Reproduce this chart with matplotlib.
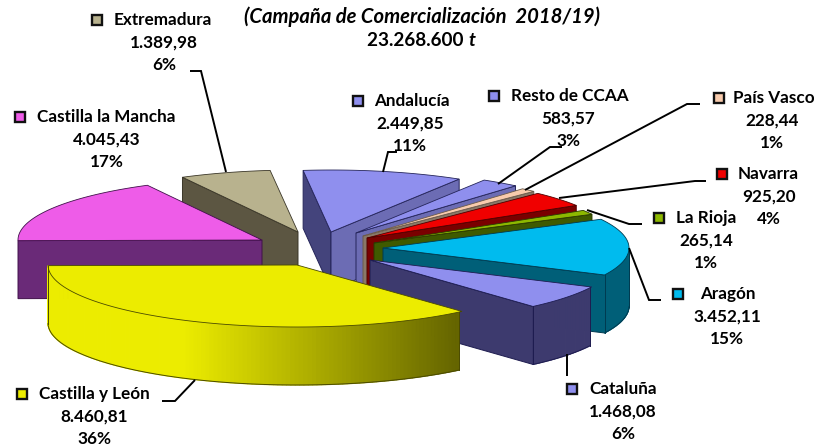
import numpy as np
import matplotlib
matplotlib.use('Agg')
import matplotlib.pyplot as plt
from matplotlib.patches import Polygon, Rectangle
from matplotlib.colors import to_rgb

plt.rcParams['font.family'] = ['Lato', 'DejaVu Sans']

# datos (miles de t), en el orden de la tarta, en sentido horario
regiones = ['Castilla y León', 'Castilla la Mancha', 'Extremadura', 'Andalucía', 'Resto de CCAA',
            'País Vasco', 'Navarra', 'La Rioja', 'Aragón', 'Cataluña']
valores = [8460.81, 4045.43, 1389.98, 2449.85, 583.57, 228.44, 925.20, 265.14, 3452.11, 1468.08]
valores_txt = ['8.460,81', '4.045,43', '1.389,98', '2.449,85', '583,57', '228,44', '925,20', '265,14',
               '3.452,11', '1.468,08']
porcentajes = ['36%', '17%', '6%', '11%', '3%', '1%', '4%', '1%', '15%', '6%']

color_top = ['#ECEC00', '#EE5CE8', '#B8B28E', '#8F8FEE', '#8F8FEE', '#F8CBAD', '#F00000', '#8DB800', '#00BBEE', '#8F8FEE']
color_izq = ['#6B6B00', '#6A2A78', '#5C5642', '#44447C', '#44447C', '#8A7868', '#7A0000', '#3F5A00', '#005F78', '#3D3A6E']
color_der = ['#6B6B00', '#6A2A78', '#5C5642', '#6C6CB4', '#6C6CB4', '#8A7868', '#7A0000', '#3F5A00', '#005F78', '#3D3A6E']
color_borde = ['#4A4A00', '#40104A', '#3A3628', '#25255A', '#25255A', '#6A5A4A', '#500000', '#2A3A00', '#003A50', '#1E1C50']

# vertice de cada porcion en pixeles de la figura
centros = [(297, 265), (262, 240), (298, 232), (331, 232), (356, 233),
           (363, 236), (367, 238), (374, 243), (383, 248), (370, 260)]
radios_x = [249, 244, 246, 246, 246, 246, 246, 246, 246, 246]
RY, ALTO = 62, 58
ANG_INI = 311.5  # angulo donde empieza Castilla y Leon

# etiquetas: cuadrado, x del nombre, x centro, y del nombre
etiquetas = [(22, 39, 94, 394), (20, 37, 107, 117), (97, 114, 164, 20), (358, 374, 410, 101),
             (494, 511, 568, 96), (719, 733, 772, 98), (722, 738, 769, 174), (659, 676, 706, 218),
             (678, 700, 727, 294), (572, 589, 623, 389)]

lineas = [[(162, 401), (175, 401), (195, 380)],
          [(190, 71), (201, 71), (226, 172)],
          [(397, 152), (388, 152), (383, 172)],
          [(562, 147), (550, 147), (498, 184)],
          [(700, 104), (687, 104), (525, 190)],
          [(706, 181), (695, 181), (559, 198)],
          [(587, 210), (629, 224), (642, 224)],
          [(629, 248), (649, 300), (661, 300)],
          [(567, 354), (567, 376)]]


def punto(c, ang, rx):
    a = np.radians(ang)
    return c[0] + rx * np.cos(a), c[1] - RY * np.sin(a)


def cara(ax, x, y, color, borde):
    ax.add_patch(Polygon(np.column_stack([x, y]), closed=True, fc=color, ec=borde, lw=0.7))


def dibuja_porcion(ax, c, a1, a2, i):
    # a1 > a2, la porcion va en sentido horario de a1 a a2
    rx = radios_x[i]
    # paredes de corte
    if np.cos(np.radians(a1)) < 0.01:
        x1, y1 = punto(c, a1, rx)
        cara(ax, [c[0], x1, x1, c[0]], [c[1], y1, y1 + ALTO, c[1] + ALTO], color_izq[i], color_borde[i])
    if np.cos(np.radians(a2)) > 0:
        x2, y2 = punto(c, a2, rx)
        cara(ax, [c[0], x2, x2, c[0]], [c[1], y2, y2 + ALTO, c[1] + ALTO], color_der[i], color_borde[i])

    # pared exterior, solo la parte de delante
    angs = np.arange(a2, a1 + 0.01, 1.0)
    angs = angs[np.sin(np.radians(angs)) <= 0.001]
    for k in range(len(angs) - 1):
        x0, y0 = punto(c, angs[k], rx)
        x1, y1 = punto(c, angs[k + 1], rx)
        col = color_izq[i]
        if regiones[i] == 'Castilla y León':
            # degradado del amarillo al oliva
            t = np.clip((0.5 * (x0 + x1) - 185) / (457 - 185), 0, 1)
            col = tuple((1 - t) * np.array(to_rgb('#ECEC00')) + t * np.array(to_rgb('#656500')))
        ax.add_patch(Polygon([(x0, y0), (x1, y1), (x1, y1 + ALTO), (x0, y0 + ALTO)], closed=True, fc=col, ec=col, lw=0.9))
    if len(angs) > 1:
        xs, ys = punto(c, angs, rx)
        ax.plot(xs, ys + ALTO, color=color_borde[i], lw=0.7)
        for a in angs[[0, -1]]:
            xa, ya = punto(c, a, rx)
            ax.plot([xa, xa], [ya, ya + ALTO], color=color_borde[i], lw=0.7)

    # tapa
    angs = np.linspace(a2, a1, 80)
    xs, ys = punto(c, angs, rx)
    ax.add_patch(Polygon(np.vstack([[c], np.column_stack([xs, ys])]), closed=True, fc=color_top[i], ec=color_borde[i], lw=0.6))


fig = plt.figure(figsize=(8.14, 4.46), dpi=100)
ax = fig.add_axes([0, 0, 1, 1])
ax.set_xlim(0, 814)
ax.set_ylim(446, 0)
ax.axis('off')

# angulos a partir de los valores
fracc = np.array(valores) / sum(valores) * 360
a_sup = ANG_INI - np.concatenate([[0], np.cumsum(fracc)[:-1]])
a_inf = a_sup - fracc
orden = [2, 1, 3, 4, 5, 6, 7, 8, 9, 0]
for i in orden:
    dibuja_porcion(ax, centros[i], a_sup[i], a_inf[i], i)

for l in lineas:
    ax.plot([p[0] for p in l], [p[1] for p in l], color='black', lw=1.4, solid_capstyle='butt', solid_joinstyle='miter')

FS = 12.3
for i, (xc, xn, xm, yn) in enumerate(etiquetas):
    ax.add_patch(Rectangle((xc - 5, yn - 5), 10, 10, fc=color_top[i], ec='#111111', lw=1.7))
    ax.text(xn, yn, regiones[i], ha='left', va='center', fontsize=FS, fontweight='bold', color='black')
    ax.text(xm, yn + 22.5, valores_txt[i], ha='center', va='center', fontsize=FS, fontweight='bold', color='black')
    ax.text(xm, yn + 45, porcentajes[i], ha='center', va='center', fontsize=FS, fontweight='bold', color='black')

ax.text(422, 17, '(Campaña de Comercialización  2018/19)', ha='center', va='center', fontsize=14.6,
        fontweight='bold', fontstyle='italic', color='black')
ax.text(468, 41, '23.268.600 ', ha='right', va='center', fontsize=13.6, fontweight='bold', color='black')
ax.text(468, 41, 't', ha='left', va='center', fontsize=13.6, fontweight='bold', fontstyle='italic', color='black')

fig.savefig('out.png', dpi=100)
